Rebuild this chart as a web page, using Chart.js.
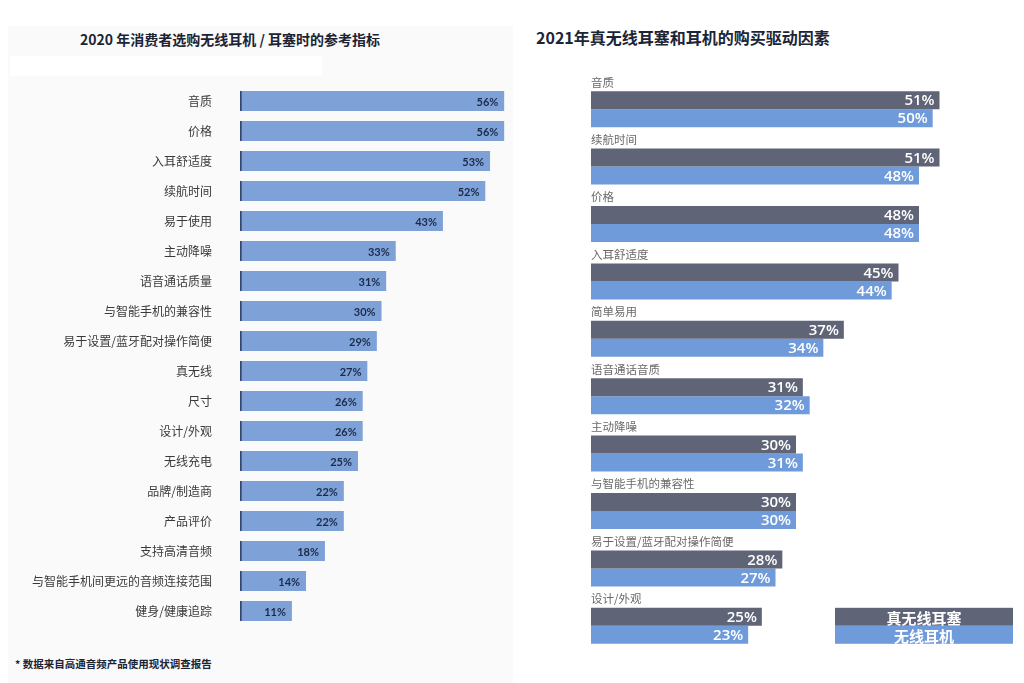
<!DOCTYPE html>
<html>
<head>
<meta charset="utf-8">
<script src="https://cdn.jsdelivr.net/npm/chart.js@4"></script>
<style>
  body { margin: 0; width: 1024px; height: 683px; background: #fff; position: relative; overflow: hidden;
    font-family: "Noto Sans CJK SC", "Noto Sans", sans-serif; }
  #panelL { position: absolute; left: 8px; top: 26px; width: 505px; height: 657px; background: #fafafb; }
  #patch { position: absolute; left: 10px; top: 56px; width: 312px; height: 20px; background: #fff; }
  #titleL { position: absolute; left: 80px; top: 29px; font-size: 14px; font-weight: 700; color: #1c2433; white-space: nowrap; }
  #titleR { position: absolute; left: 536px; top: 25px; font-size: 16px; font-weight: 700; color: #1c2536; white-space: nowrap; }
  #note { position: absolute; left: 15px; top: 656px; font-size: 10.5px; font-weight: 700; color: #1c2433; white-space: nowrap; }
  #boxL { position: absolute; left: 0; top: 86px; width: 515px; height: 540px; }
  #boxR { position: absolute; left: 560px; top: 60px; width: 464px; height: 620px; }
</style>
</head>
<body>
<div id="panelL"></div>
<div id="patch"></div>
<div id="titleL">2020 年消费者选购无线耳机 / 耳塞时的参考指标</div>
<div id="titleR">2021年真无线耳塞和耳机的购买驱动因素</div>
<div id="note">* 数据来自高通音频产品使用现状调查报告</div>
<div id="boxL"><canvas id="left"></canvas></div>
<div id="boxR"><canvas id="right"></canvas></div>
<script>
// 2020 指标
let factors2020 = ["音质", "价格", "入耳舒适度", "续航时间", "易于使用", "主动降噪", "语音通话质量",
  "与智能手机的兼容性", "易于设置/蓝牙配对操作简便", "真无线", "尺寸", "设计/外观", "无线充电",
  "品牌/制造商", "产品评价", "支持高清音频", "与智能手机间更远的音频连接范围", "健身/健康追踪"];
let share2020 = [56, 56, 53, 52, 43, 33, 31, 30, 29, 27, 26, 26, 25, 22, 22, 18, 14, 11];

// 2021 驱动因素
let factors2021 = ["音质", "续航时间", "价格", "入耳舒适度", "简单易用", "语音通话音质", "主动降噪",
  "与智能手机的兼容性", "易于设置/蓝牙配对操作简便", "设计/外观"];
let seriesNames = ["真无线耳塞", "无线耳机"];
let tws2021 = [51, 51, 48, 45, 37, 31, 30, 30, 28, 25];
let wireless2021 = [50, 48, 48, 44, 34, 32, 31, 30, 27, 23];

Chart.defaults.animation = false;
Chart.defaults.plugins.tooltip.enabled = false;
Chart.defaults.plugins.legend.display = false;

const valueLabelsL = {
  id: "valueLabelsL",
  afterDatasetsDraw(chart) {
    const ctx = chart.ctx;
    const meta = chart.getDatasetMeta(0);
    ctx.save();
    ctx.font = "700 11px Lato, 'Open Sans', sans-serif";
    ctx.fillStyle = "#1c2a4a";
    ctx.textAlign = "right";
    ctx.textBaseline = "middle";
    meta.data.forEach((bar, i) => {
      ctx.fillText(share2020[i] + "%", bar.x - 6, bar.y + 1);
    });
    ctx.restore();
  },
};

new Chart(document.getElementById("left"), {
  type: "bar",
  data: {
    labels: factors2020,
    datasets: [
      {
        data: share2020,
        backgroundColor: "#7ea2d8",
        borderColor: "#34466b",
        borderWidth: { left: 2, right: 0, top: 0, bottom: 0 },
        borderSkipped: false,
        barThickness: 20,
      },
    ],
  },
  options: {
    indexAxis: "y",
    responsive: true,
    maintainAspectRatio: false,
    layout: { padding: { top: 0, bottom: 0, right: 6, left: 0 } },
    scales: {
      x: { display: false, min: 0, max: 57 },
      y: {
        grid: { display: false },
        border: { display: false },
        ticks: {
          color: "#3a3a3a",
          padding: 20,
          font: { size: 12, family: "'Noto Sans CJK SC', sans-serif" },
        },
        afterFit(scale) {
          scale.width = 240;
          scale.paddingTop = 0;
          scale.paddingBottom = 0;
        },
      },
    },
  },
  plugins: [valueLabelsL],
});

const groupLabelsR = {
  id: "groupLabelsR",
  afterDatasetsDraw(chart) {
    const ctx = chart.ctx;
    const top = chart.getDatasetMeta(0).data;
    const bottom = chart.getDatasetMeta(1).data;
    const left = chart.chartArea.left;
    ctx.save();
    // category names above each pair
    ctx.font = "11.5px 'Noto Sans CJK SC', sans-serif";
    ctx.fillStyle = "#6a6a6a";
    ctx.textAlign = "left";
    ctx.textBaseline = "middle";
    top.forEach((bar, i) => {
      ctx.fillText(factors2021[i], left, bar.y - bar.height / 2 - 9);
    });
    // values
    ctx.font = "600 15px 'Open Sans', sans-serif";
    ctx.fillStyle = "#ffffff";
    ctx.textAlign = "right";
    top.forEach((bar, i) => {
      ctx.fillText(tws2021[i] + "%", bar.x - 5, bar.y + 1);
    });
    bottom.forEach((bar, i) => {
      ctx.fillText(wireless2021[i] + "%", bar.x - 5, bar.y + 1);
    });
    // legend block next to last group
    const last = top[top.length - 1];
    const h = last.height;
    const lx = chart.width - 189;
    const lw = 178;
    const ly = last.y - h / 2;
    chart.data.datasets.forEach((ds, k) => {
      ctx.fillStyle = ds.backgroundColor;
      ctx.fillRect(lx, ly + k * h, lw, h);
      ctx.fillStyle = "#ffffff";
      ctx.font = "600 15px 'Noto Sans CJK SC', sans-serif";
      ctx.textAlign = "center";
      ctx.fillText(ds.label, lx + lw / 2, ly + k * h + h / 2 + 1);
    });
    ctx.restore();
  },
};

new Chart(document.getElementById("right"), {
  type: "bar",
  data: {
    labels: factors2021,
    datasets: [
      {
        label: seriesNames[0],
        data: tws2021,
        backgroundColor: "#5f6477",
        borderWidth: 0,
        categoryPercentage: 0.627,
        barPercentage: 1,
      },
      {
        label: seriesNames[1],
        data: wireless2021,
        backgroundColor: "#6f9bda",
        borderWidth: 0,
        categoryPercentage: 0.627,
        barPercentage: 1,
      },
    ],
  },
  options: {
    indexAxis: "y",
    responsive: true,
    maintainAspectRatio: false,
    layout: { padding: { top: 20.5, bottom: 25.5, left: 31, right: 23 } },
    scales: {
      x: { display: false, min: 0, max: 60 },
      y: { display: false },
    },
  },
  plugins: [groupLabelsR],
});
</script>
</body>
</html>
